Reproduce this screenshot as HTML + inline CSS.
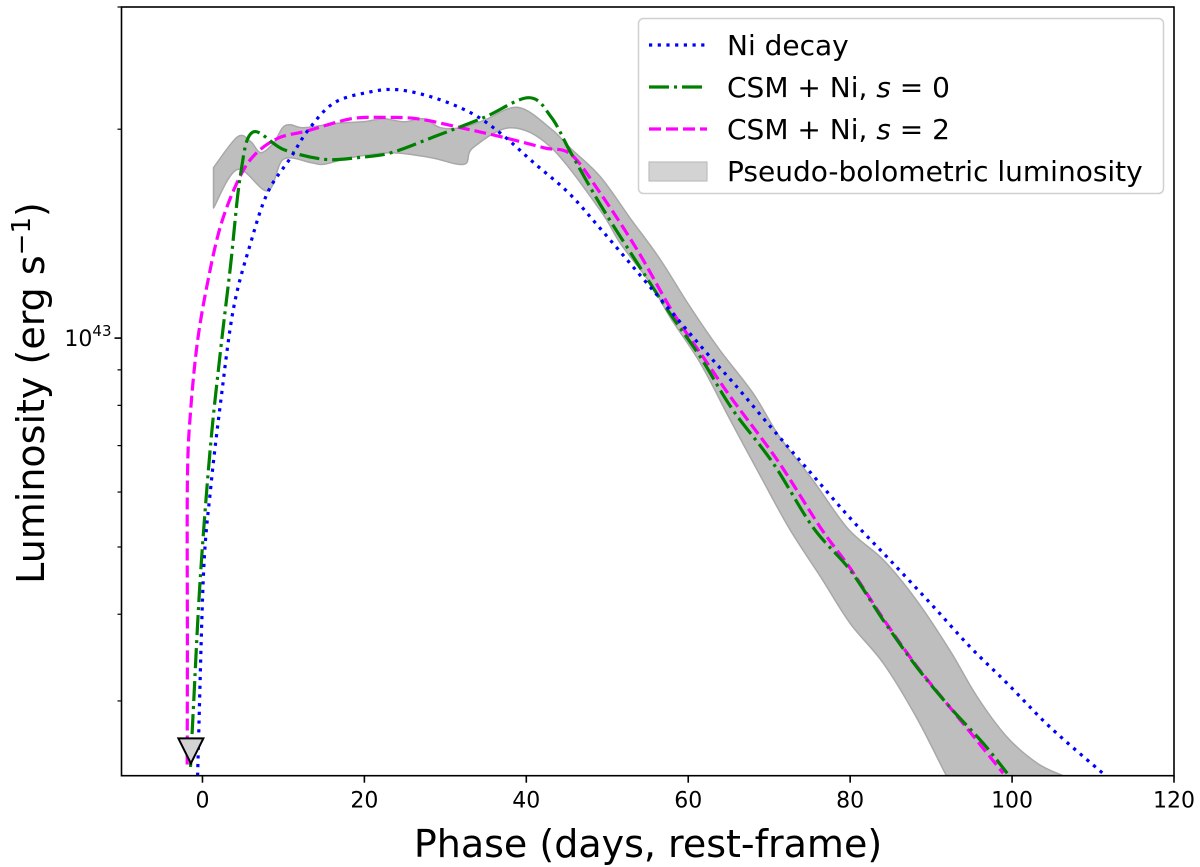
<!DOCTYPE html>
<html><head><meta charset="utf-8"><style>
html,body{margin:0;padding:0;background:#fff;}
svg{display:block;font-family:"DejaVu Sans","Liberation Sans",sans-serif;}
</style></head><body>
<svg id="chart" width="1200" height="867" viewBox="0 0 1200 867" xmlns="http://www.w3.org/2000/svg">
<defs><clipPath id="plotclip"><rect x="121.5" y="7" width="1052.5" height="768.7"/></clipPath></defs>
<g id="band-layer" clip-path="url(#plotclip)"></g>
<g id="line-layer" clip-path="url(#plotclip)"></g>
<g id="axes-layer"></g>
<text x="648" y="857" font-size="38" text-anchor="middle">Phase (days, rest-frame)</text>
<text transform="translate(44,393) rotate(-90)" font-size="38" text-anchor="middle">Luminosity (erg s<tspan font-size="26" dy="-14">−1</tspan><tspan dy="14">)</tspan></text>
<g>
<rect x="638.5" y="18.5" width="525" height="175" rx="5" fill="#fff" fill-opacity="0.8" stroke="#d0d0d0" stroke-width="1.5"/>
<line x1="649" y1="45" x2="707" y2="45" stroke="#0000ff" stroke-width="3.2" stroke-dasharray="3.2,5.5"/>
<text x="727" y="55" font-size="28">Ni decay</text>
<line x1="649" y1="87" x2="707" y2="87" stroke="#008000" stroke-width="3.2" stroke-dasharray="20,5,3,5"/>
<text x="727" y="97" font-size="28">CSM + Ni, <tspan font-style="italic">s</tspan> = 0</text>
<line x1="649" y1="129" x2="707" y2="129" stroke="#ff00ff" stroke-width="3.2" stroke-dasharray="12,5"/>
<text x="727" y="139" font-size="28">CSM + Ni, <tspan font-style="italic">s</tspan> = 2</text>
<rect x="649" y="162" width="58" height="19" fill="#d3d3d3" stroke="#bdbdbd" stroke-width="1.2"/>
<text x="727" y="181" font-size="28">Pseudo-bolometric luminosity</text>
</g>
</svg>
<script>
// Data (luminosity in units of 1e43 erg/s, phase in days)
const niDays = [-0.6,0.12,0.99,2.23,3.84,5.94,8.04,10.9,13.0,16.2,20.4,24.1,28.6,33.2,36.9,40.9,45.2,49.1,55.7,62.3,65.8,70.3,74.8,80.2,84.9,89.9,94.8,99.4,104.7,111.2];
const niLum = [0.234,0.454,0.604,0.806,1.105,1.37,1.62,1.82,1.99,2.18,2.26,2.28,2.22,2.11,1.97,1.79,1.62,1.44,1.17,0.951,0.856,0.742,0.646,0.547,0.479,0.415,0.359,0.318,0.275,0.236];
const s0Days = [-1.48,-1.11,-0.25,0.99,2.23,3.46,4.70,6.19,10.0,15.0,19.2,23.3,28.6,34.8,40.3,43.1,45.5,49.1,53.2,57.4,61.5,65.5,70.5,75.4,80.0,84.1,88.2,92.3,96.4,99.4];
const s0Lum = [0.241,0.295,0.454,0.699,0.958,1.27,1.72,1.98,1.87,1.81,1.82,1.85,1.95,2.08,2.22,2.08,1.85,1.56,1.31,1.10,0.939,0.788,0.660,0.534,0.463,0.392,0.336,0.294,0.261,0.236];
const s2Days = [-1.89,-1.86,-1.86,-1.48,-0.62,0.62,2.23,4.33,6.31,9.28,13.0,18.3,22.4,26.6,31.9,36.9,42.2,45.5,49.1,53.7,58.1,62.7,65.5,71.0,76.3,80.0,84.1,88.2,92.3,96.0,98.9];
const s2Lum = [0.243,0.367,0.622,0.782,0.987,1.20,1.45,1.68,1.83,1.94,1.99,2.07,2.08,2.07,2.01,1.95,1.88,1.84,1.62,1.34,1.09,0.908,0.814,0.667,0.534,0.466,0.394,0.337,0.294,0.260,0.236];
const bandUpDays = [1.36,4.33,5.94,7.18,8.78,9.90,10.9,12.5,16.7,19.9,22.4,24.9,27.3,29.4,31.9,34.8,39.0,43.1,45.4,49.1,52.8,56.5,60.2,63.9,68.0,71.3,75.4,79.8,84.1,88.2,92.3,95.7,99.4,103.1,106.3];
const bandUp = [1.76,1.95,1.92,1.85,1.91,2.01,2.03,2.01,2.04,2.05,2.07,2.05,2.07,2.01,2.01,2.06,2.15,2.00,1.88,1.71,1.49,1.30,1.11,0.961,0.833,0.720,0.624,0.530,0.479,0.419,0.355,0.304,0.266,0.244,0.234];
const bandLoDays = [1.36,4.33,8.04,10.0,13.4,15.0,18.3,23.3,28.2,32.3,33.4,38.1,43.1,49.1,51.6,55.3,57.8,61.5,65.2,69.2,72.6,76.5,80.0,84.1,88.2,91.9,93.6];
const bandLo = [1.54,1.75,1.63,1.81,1.79,1.78,1.82,1.85,1.82,1.78,1.88,2.01,1.88,1.53,1.37,1.20,1.07,0.920,0.762,0.624,0.529,0.450,0.388,0.340,0.284,0.234,0.216];
const limitDay = [-1.43];
const limitLum = [0.258];
const xTicks = [0,20,40,60,80,100,120];
const xTickLabels = ["0","20","40","60","80","100","120"];
const yMinorTicks = [0.3,0.4,0.5,0.6,0.7,0.8,0.9,2,3];

const X0=121.5, X1=1174, Y0=775.7, Y1=7;
const xMin=-10, xMax=120, yMin=Math.log10(0.2341), yMax=Math.log10(3.0);
function xs(d){return X0+(d-xMin)/(xMax-xMin)*(X1-X0);}
function ys(l){return Y0-(Math.log10(l)-yMin)/(yMax-yMin)*(Y0-Y1);}
const NS="http://www.w3.org/2000/svg";
function mk(tag,parent){const e=document.createElementNS(NS,tag);parent.appendChild(e);return e;}
function smooth(p,move){
  let d=(move?'M':'L')+p[0][0].toFixed(1)+','+p[0][1].toFixed(1);
  for(let i=0;i<p.length-1;i++){
    const p0=p[i-1]||p[i],p1=p[i],p2=p[i+1],p3=p[i+2]||p2;
    const c1=[p1[0]+(p2[0]-p0[0])/6,p1[1]+(p2[1]-p0[1])/6];
    const c2=[p2[0]-(p3[0]-p1[0])/6,p2[1]-(p3[1]-p1[1])/6];
    d+='C'+c1[0].toFixed(1)+','+c1[1].toFixed(1)+' '+c2[0].toFixed(1)+','+c2[1].toFixed(1)+' '+p2[0].toFixed(1)+','+p2[1].toFixed(1);
  }
  return d;
}

const bandLayer=document.getElementById('band-layer');
const lineLayer=document.getElementById('line-layer');
const axes=document.getElementById('axes-layer');

const up=bandUpDays.map((d,i)=>[xs(d),ys(bandUp[i])]);
const lo=bandLoDays.map((d,i)=>[xs(d),ys(bandLo[i])]).reverse();
const band=mk('path',bandLayer);


band.setAttribute('d',smooth(up,true)+smooth(lo,false)+'Z');
band.setAttribute('fill','#bebebe');
band.setAttribute('stroke','#a8a8a8');
band.setAttribute('stroke-width','1.5');
band.setAttribute('stroke-linejoin','round');

function line(days,lum,color,dash,name){
  const p=mk('path',lineLayer);
  
  
  p.setAttribute('d',smooth(days.map((d,i)=>[xs(d),ys(lum[i])]),true));
  p.setAttribute('fill','none');p.setAttribute('stroke',color);
  p.setAttribute('stroke-width','3.2');p.setAttribute('stroke-dasharray',dash);
  p.setAttribute('stroke-linejoin','round');
}
line(s2Days,s2Lum,'#ff00ff','12,5','csm-s2-line');
line(s0Days,s0Lum,'#008000','20,5,3,5','csm-s0-line');
line(niDays,niLum,'#0000ff','3.2,5.5','ni-decay-line');

for(let i=0;i<limitDay.length;i++){
  const cx=xs(limitDay[i]), cy=ys(limitLum[i]);
  const t=mk('polygon',axes);
  
  
  t.setAttribute('points',(cx-12.5)+','+(cy-8)+' '+(cx+12.5)+','+(cy-8)+' '+cx+','+(cy+17));
  t.setAttribute('fill','#d3d3d3');t.setAttribute('stroke','#000');t.setAttribute('stroke-width','2');
}

const fr=mk('rect',axes);


fr.setAttribute('x',X0);fr.setAttribute('y',Y1);fr.setAttribute('width',X1-X0);fr.setAttribute('height',Y0-Y1);
fr.setAttribute('fill','none');fr.setAttribute('stroke','#000');fr.setAttribute('stroke-width','1.6');

xTicks.forEach((v,i)=>{
  const x=xs(v);
  const l=mk('line',axes);
  
  
  l.setAttribute('x1',x);l.setAttribute('x2',x);l.setAttribute('y1',Y0);l.setAttribute('y2',Y0+7);
  l.setAttribute('stroke','#000');l.setAttribute('stroke-width','1.6');
  const t=mk('text',axes);
  
  
  t.setAttribute('x',x);t.setAttribute('y',Y0+32);t.setAttribute('font-size','22');t.setAttribute('text-anchor','middle');
  t.textContent=xTickLabels[i];
});
{
  const y=ys(1);
  const l=mk('line',axes);
  
  
  l.setAttribute('x1',X0-7);l.setAttribute('x2',X0);l.setAttribute('y1',y);l.setAttribute('y2',y);
  l.setAttribute('stroke','#000');l.setAttribute('stroke-width','1.6');
  const t=mk('text',axes);
  
  
  t.setAttribute('x',X0-10);t.setAttribute('y',y+8);t.setAttribute('font-size','22');t.setAttribute('text-anchor','end');
  t.innerHTML='10<tspan font-size="15" dy="-10">43</tspan>';
}
yMinorTicks.forEach(v=>{
  const y=ys(v);
  const l=mk('line',axes);
  
  
  l.setAttribute('x1',X0-4);l.setAttribute('x2',X0);l.setAttribute('y1',y);l.setAttribute('y2',y);
  l.setAttribute('stroke','#000');l.setAttribute('stroke-width','1.2');
});
</script>
</body></html>
